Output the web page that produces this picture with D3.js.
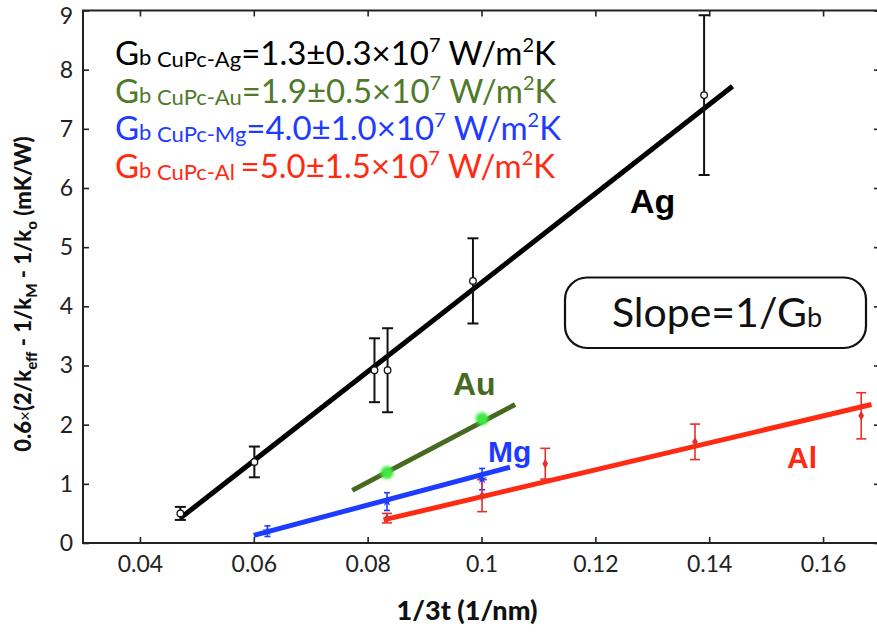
<!DOCTYPE html>
<html>
<head>
<meta charset="utf-8">
<script src="https://cdn.jsdelivr.net/npm/d3@7"></script>
<style>
  html, body { margin: 0; padding: 0; background: #fff; }
  svg { display: block; }
  text { font-family: "Lato", "Open Sans", sans-serif; }
</style>
</head>
<body>
<svg id="chart" width="877" height="632"></svg>
<script>
// ---- data: 0.6×(2/k_eff − 1/k_M − 1/k_o) versus 1/3t for each metal ----
const xTicks = [0.04, 0.06, 0.08, 0.1, 0.12, 0.14, 0.16];
const yTicks = [0, 1, 2, 3, 4, 5, 6, 7, 8, 9];

const agX   = [0.0471, 0.0601, 0.0812, 0.0835, 0.0985, 0.1391];
const agY   = [0.50, 1.37, 2.92, 2.92, 4.43, 7.57];
const agErr = [0.11, 0.26, 0.54, 0.71, 0.72, 1.35];

const auX   = [0.0834, 0.1001];
const auY   = [1.19, 2.10];
const auErr = [0.06, 0.08];

const mgX   = [0.0624, 0.0834, 0.1001];
const mgY   = [0.20, 0.70, 1.08];
const mgErr = [0.09, 0.15, 0.18];

const alX   = [0.0834, 0.1001, 0.1112, 0.1375, 0.1667];
const alY   = [0.42, 0.80, 1.34, 1.71, 2.15];
const alErr = [0.08, 0.27, 0.26, 0.30, 0.39];

// linear fits, as [start, end] points
const agFitX = [0.0471, 0.1441], agFitY = [0.42, 7.72];
const auFitX = [0.0773, 0.1059], auFitY = [0.89, 2.34];
const mgFitX = [0.0600, 0.1050], mgFitY = [0.13, 1.28];
const alFitX = [0.0828, 0.1685], alFitY = [0.39, 2.34];

const legendMetals = ["CuPc-Ag", "CuPc-Au", "CuPc-Mg", "CuPc-Al"];
const legendValues = ["1.3±0.3", "1.9±0.5", "4.0±1.0", "5.0±1.5"];

// ---- layout ----
const svg = d3.select("#chart");
const L = 83, R = 880, T = 10.5, B = 543;
const x = d3.scaleLinear().domain([0.03, 0.17]).range([L, R]);
const y = d3.scaleLinear().domain([0, 9]).range([B, T]);

const colors = { ag: "#000000", au: "#466a22", mg: "#1e3cff", al: "#ff2a12" };

const defs = svg.append("defs");
defs.append("filter").attr("id", "glow")
  .attr("x", "-100%").attr("y", "-100%").attr("width", "300%").attr("height", "300%")
  .append("feGaussianBlur").attr("stdDeviation", 1.8);

// ---- axes with inward ticks on all four sides ----
const tickLen = 6;
const fmt = d => (d === 0.1 ? "0.1" : d3.format("")(+d.toFixed(2)));

svg.append("g").attr("transform", `translate(0,${B})`)
  .call(d3.axisBottom(x).tickValues(xTicks).tickSize(-tickLen).tickPadding(13).tickFormat(fmt))
  .call(g => g.select(".domain").remove());
svg.append("g").attr("transform", `translate(0,${T})`)
  .call(d3.axisTop(x).tickValues(xTicks).tickSize(-tickLen).tickFormat(""))
  .call(g => g.select(".domain").remove());
const yAxisG = svg.append("g").attr("transform", `translate(${L},0)`)
  .call(d3.axisLeft(y).tickValues(yTicks).tickSize(-tickLen).tickPadding(10).tickFormat(d3.format("d")))
  .call(g => g.select(".domain").remove());
svg.append("g").attr("transform", `translate(${R},0)`)
  .call(d3.axisRight(y).tickValues(yTicks).tickSize(-tickLen).tickFormat(""))
  .call(g => g.select(".domain").remove());

svg.selectAll(".tick line").attr("stroke", "#222").attr("stroke-width", 1.6);
svg.selectAll(".tick text")
  .attr("fill", "#222")
  .style("font-family", "Lato, sans-serif")
  .style("font-size", "23px");
// keep the top label inside the page
yAxisG.selectAll(".tick text").filter(d => d === 9).attr("dy", "0.55em");

svg.append("rect")
  .attr("x", L).attr("y", T).attr("width", R - L).attr("height", B - T)
  .attr("fill", "none").attr("stroke", "#222").attr("stroke-width", 2);

// ---- axis titles ----
svg.append("text")
  .attr("x", 467).attr("y", 620)
  .attr("text-anchor", "middle")
  .style("font-size", "27px").style("font-weight", "900").attr("fill", "#111")
  .text("1/3t (1/nm)");

const yTitle = svg.append("text")
  .attr("transform", "translate(31,294) rotate(-90)")
  .attr("text-anchor", "middle")
  .style("font-size", "22px").style("font-weight", "900").attr("fill", "#111");
yTitle.append("tspan").text("0.6");
yTitle.append("tspan").style("font-weight", "400").style("font-size", "17px").text("×");
yTitle.append("tspan").text("(2/k");
yTitle.append("tspan").attr("dy", 6).style("font-size", "15px").text("eff");
yTitle.append("tspan").attr("dy", -6).text(" - 1/k");
yTitle.append("tspan").attr("dy", 6).style("font-size", "15px").text("M");
yTitle.append("tspan").attr("dy", -6).text(" - 1/k");
yTitle.append("tspan").attr("dy", 6).style("font-size", "15px").text("o");
yTitle.append("tspan").attr("dy", -6).text(" (mK/W)");

// ---- fit lines ----
const line = d3.line().x(d => x(d[0])).y(d => y(d[1]));
function fit(fx, fy, color) {
  svg.append("path")
    .datum(d3.zip(fx, fy))
    .attr("d", line)
    .attr("fill", "none").attr("stroke", color)
    .attr("stroke-width", 5).attr("stroke-linecap", "butt");
}

// ---- error bars ----
function errorBars(xs, ys, es, color, width, cap) {
  const g = svg.append("g").attr("stroke", color).attr("stroke-width", width).attr("fill", "none");
  const pts = d3.zip(xs, ys, es);
  g.selectAll("line.v").data(pts).join("line")
    .attr("x1", d => x(d[0])).attr("x2", d => x(d[0]))
    .attr("y1", d => y(d[1] - d[2])).attr("y2", d => y(d[1] + d[2]));
  g.selectAll("line.t").data(pts).join("line")
    .attr("x1", d => x(d[0]) - cap).attr("x2", d => x(d[0]) + cap)
    .attr("y1", d => y(d[1] + d[2])).attr("y2", d => y(d[1] + d[2]));
  g.selectAll("line.b").data(pts).join("line")
    .attr("x1", d => x(d[0]) - cap).attr("x2", d => x(d[0]) + cap)
    .attr("y1", d => y(d[1] - d[2])).attr("y2", d => y(d[1] - d[2]));
}

fit(agFitX, agFitY, colors.ag);
fit(auFitX, auFitY, colors.au);
fit(mgFitX, mgFitY, colors.mg);
fit(alFitX, alFitY, colors.al);

errorBars(agX, agY, agErr, "#111", 2, 5.5);
errorBars(mgX, mgY, mgErr, colors.mg, 1.6, 3);
errorBars(alX, alY, alErr, "#e8302a", 1.6, 5);

// ---- markers ----
svg.append("g").selectAll("circle").data(d3.zip(agX, agY)).join("circle")
  .attr("cx", d => x(d[0])).attr("cy", d => y(d[1])).attr("r", 3.3)
  .attr("fill", "#fff").attr("stroke", "#111").attr("stroke-width", 1.3);

svg.append("g").attr("filter", "url(#glow)").selectAll("circle").data(d3.zip(auX, auY)).join("circle")
  .attr("cx", d => x(d[0])).attr("cy", d => y(d[1])).attr("r", 6.5)
  .attr("fill", "#3fe83f");

svg.append("g").selectAll("path").data(d3.zip(mgX, mgY)).join("path")
  .attr("transform", d => `translate(${x(d[0])},${y(d[1])})`)
  .attr("d", d3.symbol(d3.symbolStar, 30))
  .attr("fill", colors.mg);

svg.append("g").selectAll("path").data(d3.zip(alX, alY)).join("path")
  .attr("transform", d => `translate(${x(d[0])},${y(d[1])})`)
  .attr("d", d3.symbol(d3.symbolDiamond, 28))
  .attr("fill", "#e8302a");

// ---- series labels ----
const seriesLabels = [
  { t: "Ag", c: "#000", px: 630, py: 213, fs: 34 },
  { t: "Au", c: colors.au, px: 453, py: 395, fs: 32 },
  { t: "Mg", c: colors.mg, px: 488, py: 462, fs: 30 },
  { t: "Al", c: colors.al, px: 787, py: 468, fs: 30 }
];
svg.append("g").selectAll("text").data(seriesLabels).join("text")
  .attr("x", d => d.px).attr("y", d => d.py)
  .attr("fill", d => d.c)
  .style("font-family", "'Liberation Sans', Arial, sans-serif")
  .style("font-weight", "900")
  .style("font-size", d => d.fs + "px")
  .text(d => d.t);

// ---- conductance legend ----
const legendColors = [colors.ag, "#4f7a2a", colors.mg, colors.al];
legendMetals.forEach((m, i) => {
  const t = svg.append("text")
    .attr("x", 115).attr("y", 65 + i * 37.7)
    .attr("fill", legendColors[i])
    .style("font-size", "33px");
  t.append("tspan").text("G");
  t.append("tspan").style("font-size", "22px").text("b ");
  t.append("tspan").attr("dy", 2).style("font-size", "22px").text(m + (i === 3 ? " " : ""));
  t.append("tspan").attr("dy", -2).text("=" + legendValues[i] + "×10");
  t.append("tspan").attr("dy", -13).style("font-size", "20px").text("7");
  t.append("tspan").attr("dy", 13).text(" W/m");
  t.append("tspan").attr("dy", -13).style("font-size", "20px").text("2");
  t.append("tspan").attr("dy", 13).text("K");
});

// ---- slope annotation ----
svg.append("rect")
  .attr("x", 565).attr("y", 277.5).attr("width", 301).attr("height", 70.5)
  .attr("rx", 22).attr("ry", 22)
  .attr("fill", "#fff").attr("stroke", "#111").attr("stroke-width", 2.2);
const slope = svg.append("text")
  .attr("x", 717).attr("y", 327)
  .attr("text-anchor", "middle").attr("fill", "#111")
  .style("font-size", "41px");
slope.append("tspan").text("Slope=1/G");
slope.append("tspan").style("font-size", "27px").text("b");
</script>
</body>
</html>
